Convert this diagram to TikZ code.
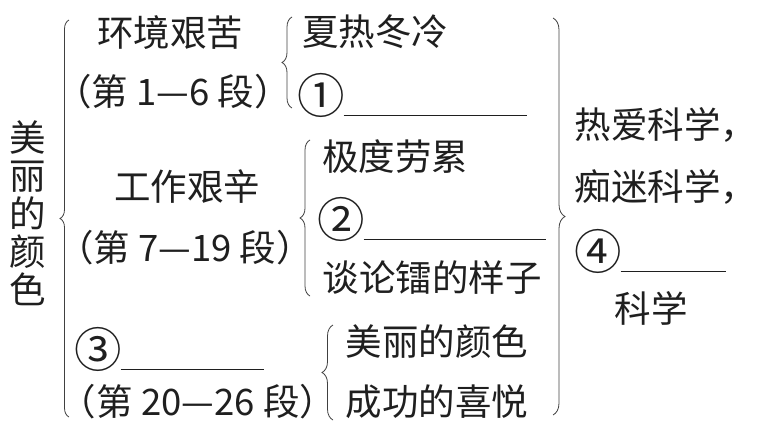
\documentclass[tikz,border=0pt]{standalone}
\usepackage{fontspec}
\setmainfont{Noto Sans CJK SC}
\usetikzlibrary{decorations.pathreplacing,positioning}

% blank to fill in, drawn as a rule under the baseline
\newcommand{\fillin}[1]{\rule[-4pt]{#1}{0.8pt}}
% circled numbers are set a little larger than the text
\newcommand{\cnum}[1]{\raisebox{-1pt}{\scalebox{1.3}{#1}}\kern-1pt}

\begin{document}
\begin{tikzpicture}[x=1pt, y=-1pt,
  txt/.style={font=\fontsize{36.5}{38}\selectfont, inner sep=0pt, text=black!88},
  gap/.style={txt, anchor=west},
  brc/.style={decorate, decoration={brace, amplitude=#1}, line width=0.8pt, black!75},
  brc/.default=9pt
]
\useasboundingbox (0,0) rectangle (759,440);

% title, set vertically
\node[txt, align=center] (title) at (28,213) {美\\丽\\的\\颜\\色};

% first level
\node[txt] (env)   at (170,33)  {环境艰苦};
\node[txt] (envp)  at (173,92)  {（第 1—6 段）};
\node[txt] (work)  at (187,187) {工作艰辛};
\node[txt] (workp) at (185,248) {（第 7—19 段）};
\node[gap] (q3)    at (74,349)  {\cnum{③}\fillin{143pt}};
\node[txt] (endp)  at (198,402) {（第 20—26 段）};

% second level
\node[txt]  (hot)    at (375,32)  {夏热冬冷};
\node[gap]  (q1)     at (297,95)  {\cnum{①}\fillin{183pt}};
\node[txt]  (tired)  at (395,157) {极度劳累};
\node[gap]  (q2)     at (317,219) {\cnum{②}\fillin{182pt}};
\node[txt]  (radium) at (432,278) {谈论镭的样子};
\node[txt]  (colour) at (437,342) {美丽的颜色};
\node[txt]  (joy)    at (437,402) {成功的喜悦};

% conclusion on the right
\node[txt]  (love)   at (666,125) {热爱科学，};
\node[txt]  (crazy)  at (666,187) {痴迷科学，};
\node[gap]  (q4)     at (574,251) {\cnum{④}\fillin{105pt}};
\node[txt]  (sci)    at (651,308) {科学};

% braces: bottom to top opens to the right, top to bottom to the left
\coordinate (b1s) at (69,417);  \coordinate (b1e) at (69,20);
\coordinate (b2s) at (292,108); \coordinate (b2e) at (292,17);
\coordinate (b3s) at (310,296); \coordinate (b3e) at (310,140);
\coordinate (b4s) at (333,420); \coordinate (b4e) at (333,325);
\coordinate (b5s) at (553,18);  \coordinate (b5e) at (553,415);

\draw[brc]      (b1s) -- (b1e);
\draw[brc=10pt] (b2s) -- (b2e);
\draw[brc=10pt] (b3s) -- (b3e);
\draw[brc=11pt] (b4s) -- (b4e);
\draw[brc=12pt] (b5s) -- (b5e);

\end{tikzpicture}
\end{document}
